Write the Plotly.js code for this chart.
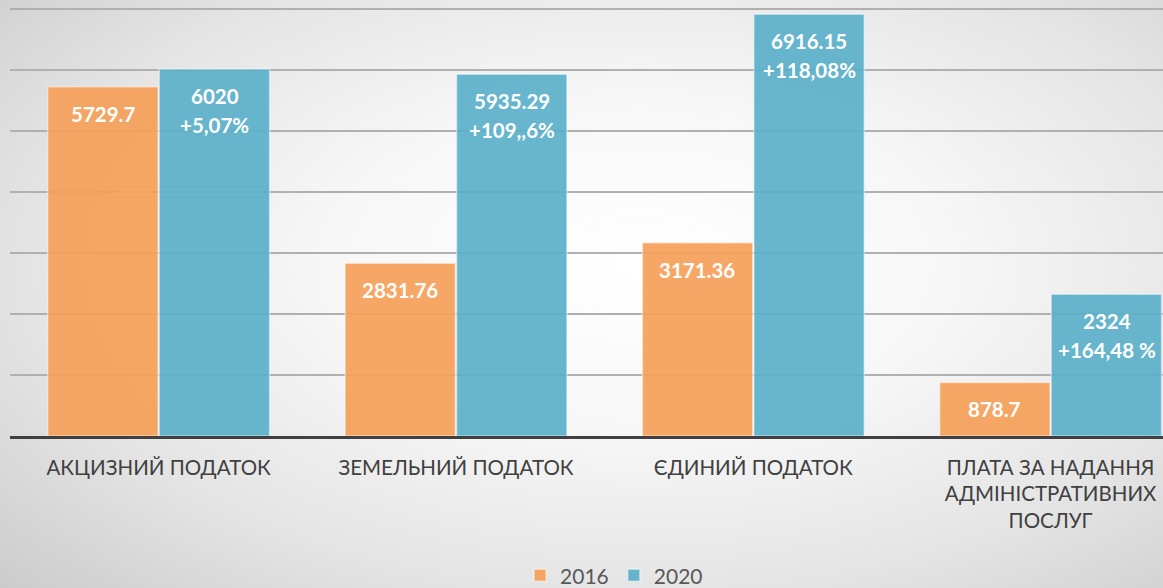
<!DOCTYPE html>
<html>
<head>
<meta charset="utf-8">
<script src="https://cdn.plot.ly/plotly-3.0.1.min.js"></script>
<style>
  html, body { margin: 0; padding: 0; }
  body {
    width: 1163px; height: 588px; overflow: hidden;
    background: radial-gradient(ellipse 75% 80% at 55% 45%, #ffffff 0%, #f7f7f7 35%, #e4e4e4 70%, #cccccc 100%);
  }
  #chart { width: 1163px; height: 588px; }
</style>
</head>
<body>
<div id="chart"></div>
<script>
const categories = ["АКЦИЗНИЙ ПОДАТОК", "ЗЕМЕЛЬНИЙ ПОДАТОК", "ЄДИНИЙ ПОДАТОК", "ПЛАТА ЗА НАДАННЯ<br>АДМІНІСТРАТИВНИХ<br>ПОСЛУГ"];
const values2016 = [5729.7, 2831.76, 3171.36, 878.7];
const values2020 = [6020, 5935.29, 6916.15, 2324];
const labels2016 = ["5729.7", "2831.76", "3171.36", "878.7"];
const labels2020 = ["6020", "5935.29", "6916.15", "2324"];
const change2020 = ["+5,07%", "+109,,6%", "+118,08%", "+164,48 %"];
const seriesNames = ["2016", "2020"];

const orange = "rgba(246,160,88,0.92)";
const blue = "rgba(90,176,202,0.92)";
const fontFam = "Lato, 'Open Sans', sans-serif";

const traces = [
  { type: "bar", name: seriesNames[0], x: categories, y: values2016,
    marker: { color: orange, line: { color: "rgba(255,255,255,0.45)", width: 1.5 } }, hoverinfo: "none" },
  { type: "bar", name: seriesNames[1], x: categories, y: values2020,
    marker: { color: blue, line: { color: "rgba(255,255,255,0.45)", width: 1.5 } }, hoverinfo: "none" }
];

const annFont = { family: fontFam, size: 20.5, color: "#ffffff", weight: 700 };
const annotations = [];
const off = 56;
categories.forEach((c, i) => {
  annotations.push({ x: c, y: values2016[i], text: "<b>" + labels2016[i] + "</b>", showarrow: false,
    xshift: -off, yshift: -27, yanchor: "middle", font: annFont });
  annotations.push({ x: c, y: values2020[i], text: "<b>" + labels2020[i] + "</b>", showarrow: false,
    xshift: off, yshift: -27, yanchor: "middle", font: annFont });
  annotations.push({ x: c, y: values2020[i], text: "<b>" + change2020[i] + "</b>", showarrow: false,
    xshift: off, yshift: -56, yanchor: "middle", font: annFont });
});

const layout = {
  width: 1163, height: 588,
  margin: { l: 10, r: 0, t: 8, b: 152, autoexpand: false },
  paper_bgcolor: "rgba(0,0,0,0)",
  plot_bgcolor: "rgba(0,0,0,0)",
  barmode: "group",
  bargap: 0.25,
  bargroupgap: 0.01,
  font: { family: fontFam },
  xaxis: {
    type: "category",
    range: [-0.5, 3.378],
    showline: true, linecolor: "#404040", linewidth: 3,
    ticks: "", showgrid: false, zeroline: false,
    tickfont: { family: fontFam, size: 20.5, color: "#404040" },
    ticklabelstandoff: 11
  },
  yaxis: {
    range: [0, 7020], dtick: 1000, tick0: 0,
    showticklabels: false, ticks: "",
    showgrid: true, gridcolor: "#b0b0b0", gridwidth: 1.5,
    zeroline: false, showline: false
  },
  showlegend: true,
  legend: {
    orientation: "h", xref: "container", yref: "container",
    x: 0.528, xanchor: "center", y: 0.021, yanchor: "middle",
    font: { family: fontFam, size: 21, color: "#595959" },
    bgcolor: "rgba(0,0,0,0)", itemclick: false, itemwidth: 30
  },
  annotations: annotations
};

Plotly.newPlot("chart", traces, layout, { displayModeBar: false, staticPlot: true });
</script>
</body>
</html>
